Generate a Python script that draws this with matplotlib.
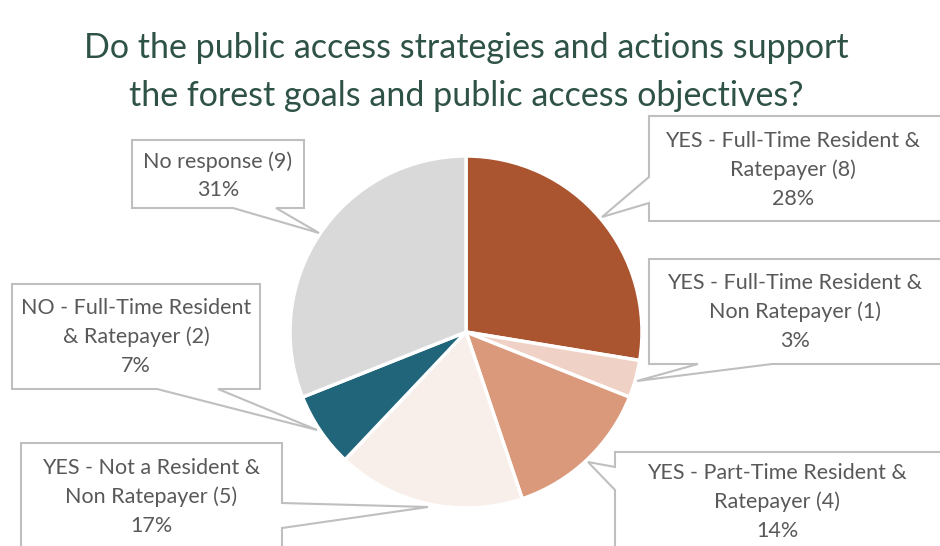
import matplotlib.pyplot as plt
from matplotlib.patches import Polygon

# survey answers, clockwise from 12 o'clock
labels = ['YES - Full-Time Resident &\nRatepayer',
          'YES - Full-Time Resident &\nNon Ratepayer',
          'YES - Part-Time Resident &\nRatepayer',
          'YES - Not a Resident &\nNon Ratepayer',
          'NO - Full-Time Resident\n& Ratepayer',
          'No response']
counts = [8, 1, 4, 5, 2, 9]
colors = ['#AB5430', '#F0D1C6', '#DB997B', '#F8EEEA', '#21657A', '#D9D9D9']

title = 'Do the public access strategies and actions support\nthe forest goals and public access objectives?'

W, H = 940, 546
FONT = 'Lato'

# callout boxes in pixel coords (y down): box, side the pointer leaves from,
# the two base points along that side, the tip, and the text centre
callouts = [
    ((649, 116, 941, 221), 'left', 177, 203, (602, 217), (793, 170)),
    ((649, 259, 945, 364), 'bottom', 698, 772, (637, 381), (795, 312)),
    ((615, 452, 945, 570), 'left', 467, 490, (588, 462), (777, 502)),
    ((21, 443, 282, 560), 'right', 503, 528, (428, 507), (151, 497)),
    ((12, 284, 260, 389), 'bottom', 157, 218, (317, 430), (136, 337)),
    ((132, 140, 304, 208), 'bottom', 233, 276, (319, 233), (218, 176)),
]


def fy(y):
    return H - y


def callout_shape(box, side, a, b, tip):
    x0, y0, x1, y1 = box
    pts = [(x0, y0)]
    if side == 'top':
        pts += [(a, y0), tip, (b, y0)]
    pts += [(x1, y0)]
    if side == 'right':
        pts += [(x1, a), tip, (x1, b)]
    pts += [(x1, y1)]
    if side == 'bottom':
        pts += [(b, y1), tip, (a, y1)]
    pts += [(x0, y1)]
    if side == 'left':
        pts += [(x0, b), tip, (x0, a)]
    return [(x, fy(y)) for x, y in pts]


fig = plt.figure(figsize=(W / 100, H / 100), dpi=100)
ax = fig.add_axes([0, 0, 1, 1])

ax.pie(counts, colors=colors, startangle=90, counterclock=False,
       center=(466, fy(332)), radius=176,
       wedgeprops=dict(edgecolor='white', linewidth=2.5))

total = sum(counts)
for i, (box, side, a, b, tip, tc) in enumerate(callouts):
    shape = Polygon(callout_shape(box, side, a, b, tip), closed=True,
                    facecolor='white', edgecolor='#BFBFBF', linewidth=1.5,
                    zorder=5)
    ax.add_patch(shape)
    pct = round(100 * counts[i] / total)
    txt = '%s (%d)\n%d%%' % (labels[i], counts[i], pct)
    ax.text(tc[0], fy(tc[1]), txt, ha='center', va='center',
            multialignment='center', fontsize=15.5, color='#595959',
            family=FONT, linespacing=1.52, zorder=6)

ax.text(466, fy(72), title, ha='center', va='center', fontsize=24.5,
        color='#2E5247', family=FONT, linespacing=1.6)

ax.set_xlim(0, W)
ax.set_ylim(0, H)
ax.set_aspect('equal')
ax.axis('off')

fig.savefig('out.png', dpi=100, facecolor='white')
